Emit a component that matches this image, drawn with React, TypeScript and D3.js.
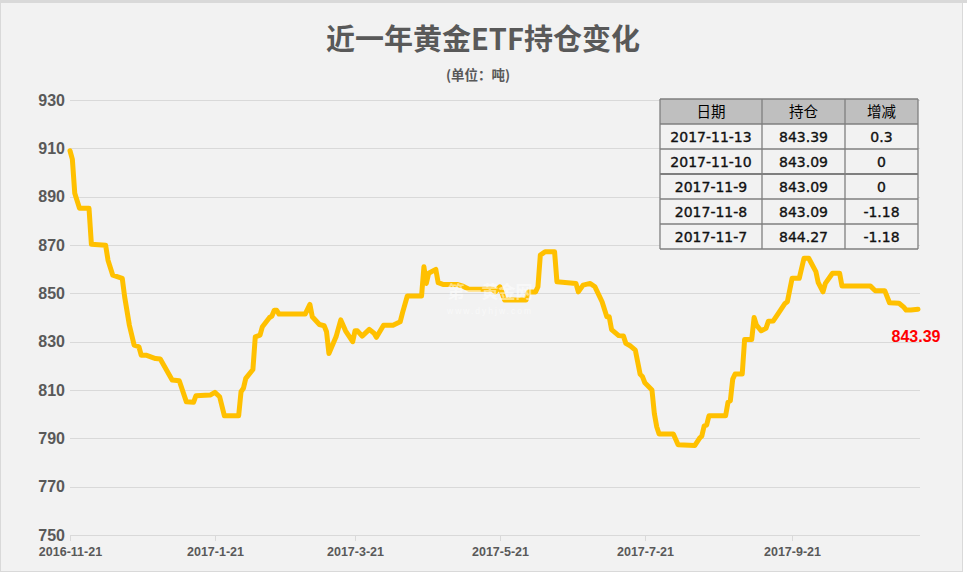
import React from 'react';
import * as d3 from 'd3';

const dates = [
  '2016-11-21','2016-11-22','2016-11-23','2016-11-25','2016-11-29','2016-11-30','2016-12-06','2016-12-07','2016-12-09','2016-12-13',
  '2016-12-14','2016-12-16','2016-12-18','2016-12-20','2016-12-21','2016-12-23','2016-12-27','2016-12-29','2017-01-03','2017-01-06',
  '2017-01-09','2017-01-12','2017-01-13','2017-01-19','2017-01-21','2017-01-23','2017-01-25','2017-01-31','2017-02-01','2017-02-02',
  '2017-02-03','2017-02-06','2017-02-07','2017-02-09','2017-02-10','2017-02-13','2017-02-14','2017-02-15','2017-02-16','2017-02-17',
  '2017-02-28','2017-03-02','2017-03-03','2017-03-06','2017-03-08','2017-03-09','2017-03-10','2017-03-13','2017-03-15','2017-03-17',
  '2017-03-20','2017-03-21','2017-03-22','2017-03-24','2017-03-27','2017-03-29','2017-03-30','2017-04-02','2017-04-06','2017-04-09',
  '2017-04-10','2017-04-12','2017-04-18','2017-04-19','2017-04-20','2017-04-21','2017-04-24','2017-04-25','2017-04-27','2017-05-03',
  '2017-05-05','2017-05-08','2017-05-18','2017-05-19','2017-05-21','2017-05-23','2017-06-01','2017-06-02','2017-06-05','2017-06-06',
  '2017-06-07','2017-06-09','2017-06-13','2017-06-14','2017-06-22','2017-06-23','2017-06-25','2017-06-28','2017-06-30','2017-07-03',
  '2017-07-05','2017-07-06','2017-07-07','2017-07-10','2017-07-12','2017-07-13','2017-07-15','2017-07-17','2017-07-19','2017-07-20',
  '2017-07-21','2017-07-24','2017-07-25','2017-07-26','2017-07-27','2017-08-02','2017-08-04','2017-08-11','2017-08-13','2017-08-14',
  '2017-08-15','2017-08-16','2017-08-17','2017-08-24','2017-08-25','2017-08-26','2017-08-27','2017-08-28','2017-08-31','2017-09-01',
  '2017-09-04','2017-09-05','2017-09-06','2017-09-08','2017-09-10','2017-09-11','2017-09-13','2017-09-15','2017-09-18','2017-09-19',
  '2017-09-21','2017-09-24','2017-09-26','2017-09-28','2017-10-01','2017-10-02','2017-10-04','2017-10-05','2017-10-08','2017-10-11',
  '2017-10-12','2017-10-24','2017-10-26','2017-10-30','2017-11-01','2017-11-05','2017-11-07','2017-11-08','2017-11-09','2017-11-10',
  '2017-11-13'
];

const holdings = [
  909.0, 905.4, 891.4, 885.2, 885.2, 870.3, 869.9, 863.7, 857.5, 856.2,
  848.6, 836.8, 828.6, 827.9, 824.4, 824.4, 823.0, 822.8, 814.1, 813.8,
  805.1, 804.9, 807.6, 807.9, 809.0, 807.2, 799.3, 799.3, 809.3, 810.7,
  814.8, 818.5, 832.0, 832.7, 836.2, 840.0, 840.6, 843.0, 843.0, 841.4,
  841.4, 845.4, 840.3, 837.1, 836.6, 834.1, 825.1, 832.0, 839.0, 834.5,
  830.0, 834.5, 834.5, 832.3, 835.1, 833.5, 831.8, 836.8, 836.8, 838.2,
  842.0, 848.9, 848.9, 861.0, 854.1, 858.3, 859.9, 854.4, 853.7, 853.7,
  853.1, 851.7, 851.7, 850.6, 852.7, 847.2, 847.2, 850.6, 850.6, 852.7,
  865.8, 867.2, 867.2, 854.8, 854.1, 850.6, 853.4, 854.1, 852.7, 846.5,
  840.3, 840.3, 835.0, 832.5, 832.3, 829.3, 828.2, 826.5, 816.6, 815.5,
  813.0, 810.0, 800.3, 794.8, 791.8, 791.8, 787.3, 787.0, 790.0, 791.0,
  795.2, 795.5, 799.3, 799.3, 804.9, 805.6, 814.5, 816.6, 816.6, 830.9,
  830.9, 840.0, 836.8, 834.5, 835.5, 838.4, 838.5, 841.4, 845.8, 846.5,
  856.2, 856.2, 864.5, 864.5, 859.0, 854.4, 850.6, 854.1, 858.3, 858.3,
  853.0, 853.0, 851.1, 851.1, 846.1, 845.9, 844.27, 843.09, 843.09, 843.09,
  843.39
];

const yTicks = [750, 770, 790, 810, 830, 850, 870, 890, 910, 930];
const xTickLabels = ['2016-11-21', '2017-1-21', '2017-3-21', '2017-5-21', '2017-7-21', '2017-9-21'];

const tableHeaders = ['日期', '持仓', '增减'];
const tableDates = ['2017-11-13', '2017-11-10', '2017-11-9', '2017-11-8', '2017-11-7'];
const tableHoldings = ['843.39', '843.09', '843.09', '843.09', '844.27'];
const tableChanges = ['0.3', '0', '0', '-1.18', '-1.18'];

const title = '近一年黄金ETF持仓变化';
const subtitle = '(单位：吨)';
const lastLabel = '843.39';

export default function App() {
  const parse = d3.timeParse('%Y-%m-%d');
  const x = d3.scaleTime()
    .domain([parse('2016-11-21') as Date, parse('2017-11-13') as Date])
    .range([70, 918]);
  const y = d3.scaleLinear().domain([750, 930]).range([535, 100]);

  const pts: [number, number][] = dates.map((d, i) => [x(parse(d) as Date), y(holdings[i])]);
  const path = d3.line().curve(d3.curveLinear)(pts) || '';

  const colX = [660, 762, 845, 918];
  const rowH = 25;
  const tableTop = 99;
  const rows = tableDates.map((d, i) => [d, tableHoldings[i], tableChanges[i]]);
  const cjk = '"Noto Sans CJK SC", "Noto Sans", sans-serif';
  const num = '"Liberation Sans", Arial, sans-serif';

  const lastY = y(holdings[holdings.length - 1]);

  return (
    <svg width={967} height={579} style={{ position: 'absolute', left: 0, top: 0, background: '#ffffff' }}>
      <rect x={0} y={0} width={967} height={579} fill="#ffffff" />
      <rect x={0.5} y={2.5} width={962} height={569} fill="#f2f2f2" stroke="#d9d9d9" strokeWidth={1} />
      <rect x={0} y={0} width={967} height={3} fill="#d9d9d9" />

      {/* title */}
      <text x={483} y={50} textAnchor="middle" fontFamily={cjk} fontWeight={700} fontSize={29} fill="#595959">{title}</text>
      <text x={478} y={80} textAnchor="middle" fontFamily={cjk} fontWeight={700} fontSize={13.5} fill="#595959">{subtitle}</text>

      {/* gridlines */}
      {yTicks.map((t) => (
        <line key={t} x1={70} x2={920} y1={Math.round(y(t)) + 0.5} y2={Math.round(y(t)) + 0.5} stroke="#d9d9d9" strokeWidth={1} />
      ))}
      {yTicks.map((t) => (
        <text key={'l' + t} x={65} y={y(t) + 5.5} textAnchor="end" fontFamily={num} fontWeight={700} fontSize={16} fill="#595959">{t}</text>
      ))}

      {/* x ticks */}
      {xTickLabels.map((l) => {
        const xx = Math.round(x(parse(l) as Date)) + 0.5;
        return (
          <g key={l}>
            <line x1={xx} x2={xx} y1={535} y2={541} stroke="#d9d9d9" strokeWidth={1} />
            <text x={xx} y={556} textAnchor="middle" fontFamily={num} fontWeight={700} fontSize={12.5} fill="#595959">{l}</text>
          </g>
        );
      })}

      {/* data line */}
      <path d={path} fill="none" stroke="#FFC000" strokeWidth={5} strokeLinejoin="round" strokeLinecap="round" />

      {/* watermark */}
      <g opacity={0.5}>
        <text x={490} y={298} textAnchor="middle" fontFamily={cjk} fontWeight={700} fontSize={17} fill="#ffffff">第一黄金网</text>
        <text x={490} y={314} textAnchor="middle" fontFamily={num} fontSize={8.5} letterSpacing={2} fill="#ffffff">www.dyhjw.com</text>
      </g>

      {/* last value label */}
      <text x={916} y={lastY + 33} textAnchor="middle" fontFamily={num} fontWeight={700} fontSize={16} fill="#FF0000">{lastLabel}</text>

      {/* table */}
      <g>
        <rect x={colX[0]} y={tableTop} width={colX[3] - colX[0]} height={rowH} fill="#bfbfbf" />
        <rect x={colX[0]} y={tableTop + rowH} width={colX[3] - colX[0]} height={rowH * rows.length} fill="#f2f2f2" />
        {tableHeaders.map((h, j) => (
          <text key={h} x={(colX[j] + colX[j + 1]) / 2} y={tableTop + 18} textAnchor="middle" fontFamily={cjk} fontSize={14.5} fill="#000000">{h}</text>
        ))}
        {rows.map((r, i) => r.map((c, j) => (
          <text key={i + '-' + j} x={(colX[j] + colX[j + 1]) / 2} y={tableTop + rowH * (i + 1) + 18} textAnchor="middle" fontFamily='"DejaVu Sans", Verdana, sans-serif' fontSize={14} fill="#111111" stroke="#111111" strokeWidth={0.35}>{c}</text>
        )))}
        {d3.range(rows.length + 2).map((i) => (
          <line key={'h' + i} x1={colX[0]} x2={colX[3]} y1={tableTop + rowH * i} y2={tableTop + rowH * i} stroke="#7f7f7f" strokeWidth={i === 3 ? 2 : 1.3} />
        ))}
        {colX.map((cx, j) => (
          <line key={'v' + j} x1={cx} x2={cx} y1={tableTop} y2={tableTop + rowH * (rows.length + 1)} stroke="#7f7f7f" strokeWidth={1.3} />
        ))}
      </g>
    </svg>
  );
}
